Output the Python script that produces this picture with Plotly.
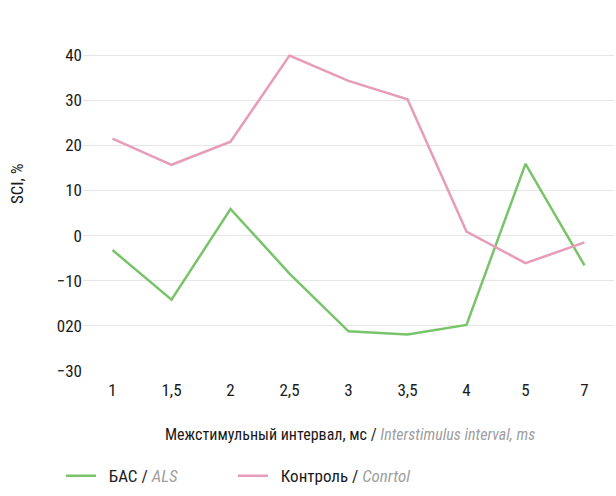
import plotly.graph_objects as go

categories = ["1", "1,5", "2", "2,5", "3", "3,5", "4", "5", "7"]
als_values = [-3.2, -14.2, 5.9, -8.4, -21.2, -21.9, -19.8, 15.9, -6.6]
control_values = [21.5, 15.7, 20.8, 39.9, 34.3, 30.2, 0.9, -6.1, -1.5]
y_tickvals = [50, 40, 30, 20, 10, 0, -10, -20, -30]
y_ticktext = ["", "40", "30", "20", "10", "0", "\u221210", "020", "\u221230"]

FONT = "Roboto Condensed, Liberation Sans Narrow, sans-serif"
GREEN = "#79c46b"
PINK = "#e79cba"
GREY = "#a0a0a0"
TXT = "#1a1a1a"

W, H = 616, 496
L, T, B, R = 83, 10, 119, 2
PW = W - L - R
PH = H - T - B
NB = "\u00a0\u00a0"

fig = go.Figure()
fig.add_trace(go.Scatter(
    x=categories, y=als_values, mode="lines",
    line=dict(color=GREEN, width=2.5),
    name=NB + "БАС / <i><span style='color:%s'>ALS</span></i>" % GREY,
    legend="legend",
))
fig.add_trace(go.Scatter(
    x=categories, y=control_values, mode="lines",
    line=dict(color=PINK, width=2.5),
    name=NB + "Контроль / <i><span style='color:%s'>Conrtol</span></i>" % GREY,
    legend="legend2",
))

leg_common = dict(
    orientation="h", xanchor="left", yanchor="middle",
    y=(377 - 484) / PH,
    font=dict(family=FONT, size=17, color=TXT),
    itemwidth=30, bgcolor="rgba(0,0,0,0)",
)

fig.update_layout(
    width=W, height=H,
    margin=dict(l=L, r=R, t=T, b=B),
    paper_bgcolor="white", plot_bgcolor="white",
    font=dict(family=FONT, size=17, color=TXT),
    showlegend=True,
    legend=dict(x=(61 - L) / PW, **leg_common),
    legend2=dict(x=(233 - L) / PW, **leg_common),
    xaxis=dict(
        type="category", range=[-0.5, 8.5],
        showgrid=False, zeroline=False, showline=False,
        ticks="", ticklabelstandoff=7,
        tickfont=dict(family=FONT, size=17, color=TXT),
        automargin=False, fixedrange=True,
    ),
    yaxis=dict(
        range=[-30, 50], tickvals=y_tickvals, ticktext=y_ticktext,
        showgrid=True, gridcolor="#e6e6e6", gridwidth=1.2,
        zeroline=False, showline=False, ticks="",
        tickfont=dict(family=FONT, size=17, color=TXT),
        automargin=False, fixedrange=True,
    ),
    annotations=[
        dict(
            text="SCI, %", xref="paper", yref="paper",
            x=(17 - L) / PW, y=(377 - 187) / PH,
            textangle=-90, showarrow=False,
            font=dict(family=FONT, size=17, color=TXT),
            xanchor="center", yanchor="middle",
        ),
        dict(
            text="Межстимульный интервал, мс / <i><span style='color:%s'>Interstimulus interval, ms</span></i>" % GREY,
            xref="paper", yref="paper",
            x=(350 - L) / PW, y=(377 - 442) / PH,
            showarrow=False,
            font=dict(family=FONT, size=16, color=TXT),
            xanchor="center", yanchor="middle",
        ),
    ],
)

fig.write_html(
    "out.html",
    config={"displayModeBar": False, "staticPlot": True},
    post_script="document.body.style.margin='0';document.body.style.overflow='hidden';",
)
